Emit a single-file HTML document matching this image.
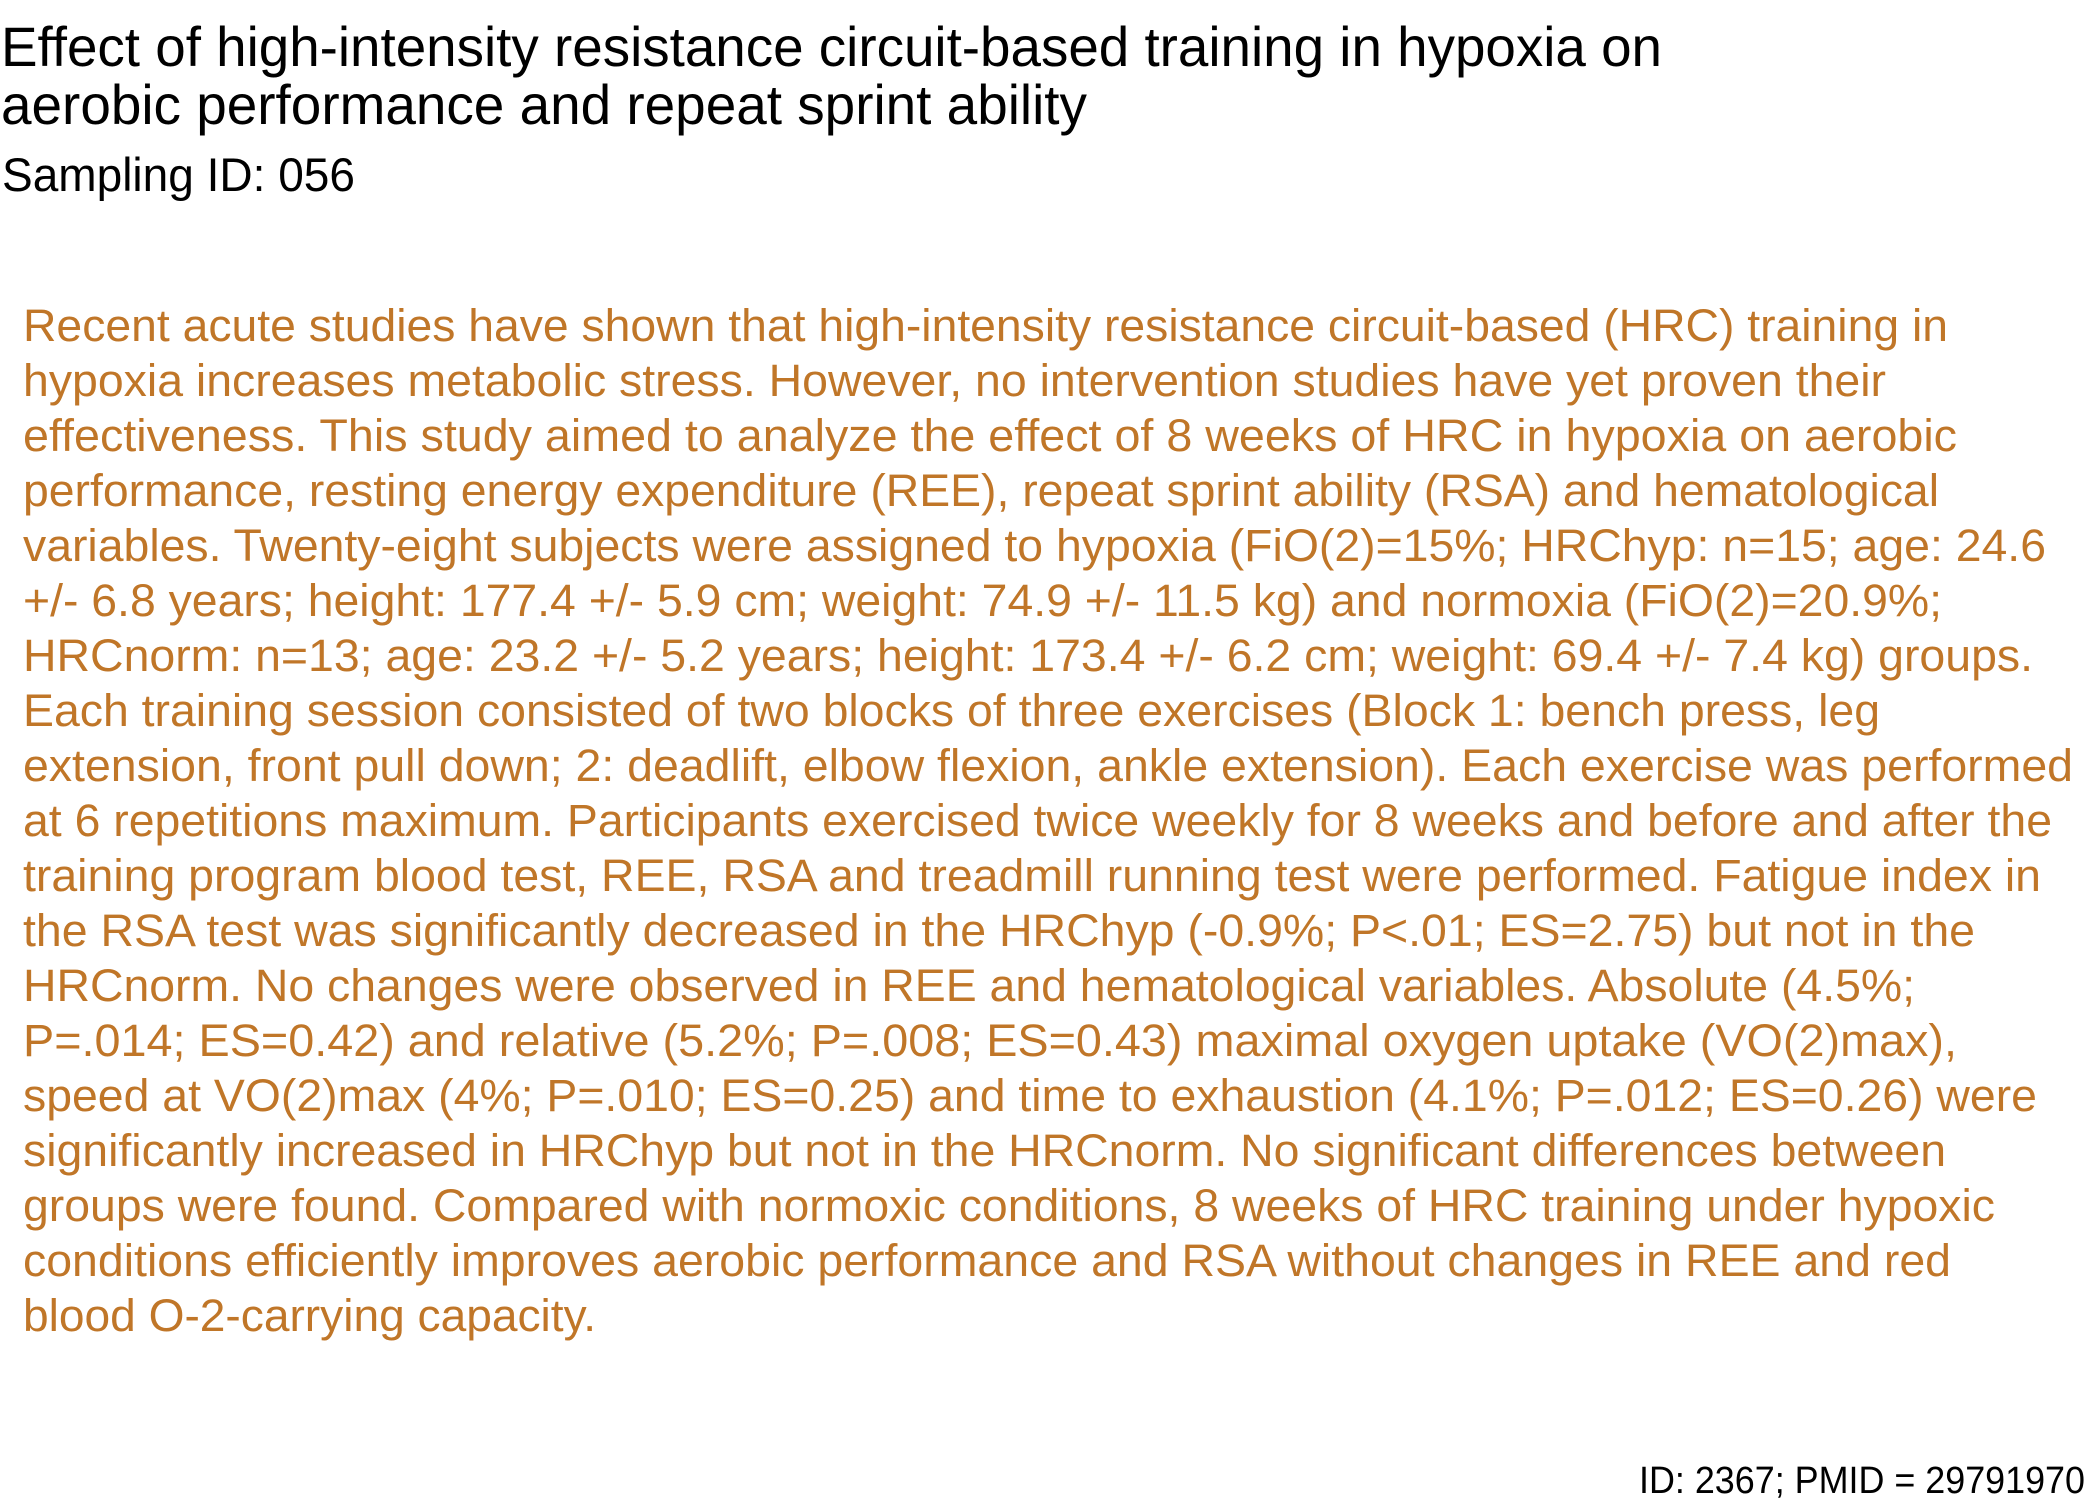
<!DOCTYPE html>
<html><head><meta charset="utf-8"><style>
html,body{margin:0;padding:0;background:#fff;}
svg{display:block;}
text{font-family:"Liberation Sans",Arial,sans-serif;}
</style></head><body>
<svg width="2100" height="1500" viewBox="0 0 2100 1500" xmlns="http://www.w3.org/2000/svg">
<rect width="2100" height="1500" fill="#fff"/>
<g fill="#000" font-size="56">
<text x="1" y="66" textLength="1661" lengthAdjust="spacingAndGlyphs">Effect of high-intensity resistance circuit-based training in hypoxia on</text>
<text x="1" y="124" textLength="1086" lengthAdjust="spacingAndGlyphs">aerobic performance and repeat sprint ability</text>
</g>
<text x="2" y="191" font-size="47" fill="#000" textLength="353" lengthAdjust="spacingAndGlyphs">Sampling ID: 056</text>
<g id="body" fill="#C07628" font-size="45"></g>
<text x="2085" y="1493" font-size="38" fill="#000" text-anchor="end" textLength="446" lengthAdjust="spacingAndGlyphs">ID: 2367; PMID = 29791970</text>
</svg>
<script>
const lines = [
["Recent acute studies have shown that high-intensity resistance circuit-based (HRC) training in",1455],
["hypoxia increases metabolic stress. However, no intervention studies have yet proven their",1408],
["effectiveness. This study aimed to analyze the effect of 8 weeks of HRC in hypoxia on aerobic",1461],
["performance, resting energy expenditure (REE), repeat sprint ability (RSA) and hematological",1448],
["variables. Twenty-eight subjects were assigned to hypoxia (FiO(2)=15%; HRChyp: n=15; age: 24.6",1528],
["+/- 6.8 years; height: 177.4 +/- 5.9 cm; weight: 74.9 +/- 11.5 kg) and normoxia (FiO(2)=20.9%;",1450],
["HRCnorm: n=13; age: 23.2 +/- 5.2 years; height: 173.4 +/- 6.2 cm; weight: 69.4 +/- 7.4 kg) groups.",1518],
["Each training session consisted of two blocks of three exercises (Block 1: bench press, leg",1404],
["extension, front pull down; 2: deadlift, elbow flexion, ankle extension). Each exercise was performed",1548],
["at 6 repetitions maximum. Participants exercised twice weekly for 8 weeks and before and after the",1532],
["training program blood test, REE, RSA and treadmill running test were performed. Fatigue index in",1524],
["the RSA test was significantly decreased in the HRChyp (-0.9%; P<.01; ES=2.75) but not in the",1475],
["HRCnorm. No changes were observed in REE and hematological variables. Absolute (4.5%;",1430],
["P=.014; ES=0.42) and relative (5.2%; P=.008; ES=0.43) maximal oxygen uptake (VO(2)max),",1461],
["speed at VO(2)max (4%; P=.010; ES=0.25) and time to exhaustion (4.1%; P=.012; ES=0.26) were",1521],
["significantly increased in HRChyp but not in the HRCnorm. No significant differences between",1453],
["groups were found. Compared with normoxic conditions, 8 weeks of HRC training under hypoxic",1490],
["conditions efficiently improves aerobic performance and RSA without changes in REE and red",1457],
["blood O-2-carrying capacity.",445]
];
const g = document.getElementById('body');
const NS = 'http://www.w3.org/2000/svg';
lines.forEach((l,i)=>{
  const t = document.createElementNS(NS,'text');
  t.setAttribute('x', 23);
  t.setAttribute('y', 341 + 55*i);
  t.setAttribute('textLength', ((l[1]-17)*1.339).toFixed(0));
  t.setAttribute('lengthAdjust','spacingAndGlyphs');
  
  
  t.textContent = l[0];
  g.appendChild(t);
});
</script>
</body></html>
